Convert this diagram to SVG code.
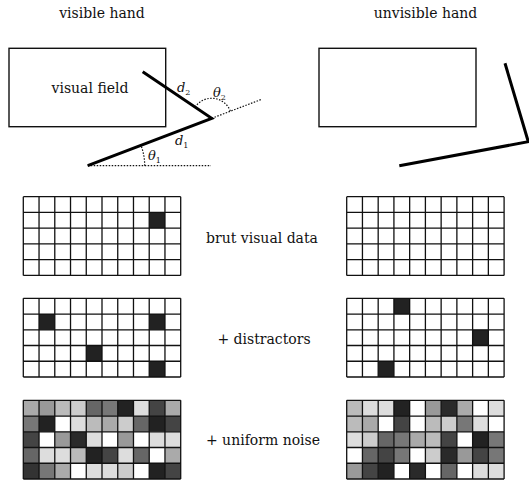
<svg xmlns="http://www.w3.org/2000/svg" xmlns:xlink="http://www.w3.org/1999/xlink" width="529" height="483" viewBox="0 0 529 483">
<style>
text{font-family:'DejaVu Serif','Liberation Serif',serif;fill:#111;}
.t{font-size:14px;}
.m{font-size:13px;font-style:italic;}
.s{font-size:8px;font-style:normal;}
.box{fill:none;stroke:#111;stroke-width:1.4;}
.arm{fill:none;stroke:#000;stroke-width:3;stroke-linejoin:miter;}
.dot{fill:none;stroke:#111;stroke-width:1.2;stroke-dasharray:1.5 1.5;}
.gl{fill:none;stroke:#111;stroke-width:1.3;}
.k{fill:#222;}
</style>
<defs>
<path id="grid" class="gl" d="M0,0H157.4M0,15.74H157.4M0,31.48H157.4M0,47.22H157.4M0,62.96H157.4M0,78.7H157.4M0,0V78.7M15.74,0V78.7M31.48,0V78.7M47.22,0V78.7M62.96,0V78.7M78.7,0V78.7M94.44,0V78.7M110.18,0V78.7M125.92,0V78.7M141.66,0V78.7M157.4,0V78.7"/>
</defs>
<rect width="529" height="483" fill="#fff"/>

<g id="title-left"><text class="t" x="102" y="18" text-anchor="middle">visible hand</text></g>
<g id="title-right"><text class="t" x="425.5" y="18" text-anchor="middle">unvisible hand</text></g>

<g id="visual-field-left">
<rect class="box" x="9" y="48.3" width="156.7" height="78.4"/>
<text class="t" x="90" y="93" text-anchor="middle">visual field</text>
</g>
<g id="visual-field-right">
<rect class="box" x="319" y="48.3" width="157" height="78.4"/>
</g>

<g id="arm-left">
<path class="dot" d="M87.7,165.7H211"/>
<path class="dot" d="M211.7,118.3L261.7,99.3"/>
<path class="dot" d="M144.7,165.7A57,57 0 0 0 141,145.4"/>
<path class="dot" d="M195.1,107.1A20,20 0 0 1 230.4,111.2"/>
<path class="arm" d="M142.7,71.7L211.7,118.3L87.7,165.7"/>
<text class="m" x="177" y="92">d<tspan class="s" dy="3">2</tspan></text>
<text class="m" x="213" y="97">θ<tspan class="s" dy="3">2</tspan></text>
<text class="m" x="175" y="145">d<tspan class="s" dy="3">1</tspan></text>
<text class="m" x="148" y="160">θ<tspan class="s" dy="3">1</tspan></text>
</g>
<g id="arm-right">
<path class="arm" d="M505,63.3L528.3,141.7L399.3,165.7"/>
</g>

<g id="labels">
<text class="t" x="262" y="243" text-anchor="middle">brut visual data</text>
<text class="t" x="264" y="344" text-anchor="middle">+ distractors</text>
<text class="t" x="263" y="445" text-anchor="middle">+ uniform noise</text>
</g>

<g id="grid-brut-left" transform="translate(23.3,196.7)">
<rect class="k" x="125.92" y="15.74" width="15.74" height="15.74"/>
<use xlink:href="#grid"/>
</g>
<g id="grid-brut-right" transform="translate(346.7,196.7)">
<use xlink:href="#grid"/>
</g>

<g id="grid-distractors-left" transform="translate(23.3,298.3)">
<rect class="k" x="15.74" y="15.74" width="15.74" height="15.74"/>
<rect class="k" x="125.92" y="15.74" width="15.74" height="15.74"/>
<rect class="k" x="62.96" y="47.22" width="15.74" height="15.74"/>
<rect class="k" x="125.92" y="62.96" width="15.74" height="15.74"/>
<use xlink:href="#grid"/>
</g>
<g id="grid-distractors-right" transform="translate(346.7,298.3)">
<rect class="k" x="47.22" y="0" width="15.74" height="15.74"/>
<rect class="k" x="125.92" y="31.48" width="15.74" height="15.74"/>
<rect class="k" x="31.48" y="62.96" width="15.74" height="15.74"/>
<use xlink:href="#grid"/>
</g>

<g id="grid-noise-left" transform="translate(23.3,400.3)">
<rect x="0" y="0" width="15.74" height="15.74" fill="#aaa"/>
<rect x="15.74" y="0" width="15.74" height="15.74" fill="#999"/>
<rect x="31.48" y="0" width="15.74" height="15.74" fill="#bbb"/>
<rect x="47.22" y="0" width="15.74" height="15.74" fill="#ccc"/>
<rect x="62.96" y="0" width="15.74" height="15.74" fill="#666"/>
<rect x="78.7" y="0" width="15.74" height="15.74" fill="#777"/>
<rect x="94.44" y="0" width="15.74" height="15.74" fill="#222"/>
<rect x="110.18" y="0" width="15.74" height="15.74" fill="#ddd"/>
<rect x="125.92" y="0" width="15.74" height="15.74" fill="#444"/>
<rect x="141.66" y="0" width="15.74" height="15.74" fill="#aaa"/>

<rect x="0" y="15.74" width="15.74" height="15.74" fill="#777"/>
<rect x="15.74" y="15.74" width="15.74" height="15.74" fill="#222"/>
<rect x="47.22" y="15.74" width="15.74" height="15.74" fill="#ddd"/>
<rect x="62.96" y="15.74" width="15.74" height="15.74" fill="#bbb"/>
<rect x="78.7" y="15.74" width="15.74" height="15.74" fill="#aaa"/>
<rect x="94.44" y="15.74" width="15.74" height="15.74" fill="#ccc"/>
<rect x="110.18" y="15.74" width="15.74" height="15.74" fill="#666"/>
<rect x="125.92" y="15.74" width="15.74" height="15.74" fill="#222"/>
<rect x="141.66" y="15.74" width="15.74" height="15.74" fill="#444"/>

<rect x="0" y="31.48" width="15.74" height="15.74" fill="#444"/>
<rect x="31.48" y="31.48" width="15.74" height="15.74" fill="#999"/>
<rect x="47.22" y="31.48" width="15.74" height="15.74" fill="#2a2a2a"/>
<rect x="62.96" y="31.48" width="15.74" height="15.74" fill="#ddd"/>
<rect x="94.44" y="31.48" width="15.74" height="15.74" fill="#999"/>
<rect x="125.92" y="31.48" width="15.74" height="15.74" fill="#ddd"/>
<rect x="141.66" y="31.48" width="15.74" height="15.74" fill="#ddd"/>

<rect x="0" y="47.22" width="15.74" height="15.74" fill="#666"/>
<rect x="15.74" y="47.22" width="15.74" height="15.74" fill="#ddd"/>
<rect x="31.48" y="47.22" width="15.74" height="15.74" fill="#ddd"/>
<rect x="47.22" y="47.22" width="15.74" height="15.74" fill="#bbb"/>
<rect x="62.96" y="47.22" width="15.74" height="15.74" fill="#222"/>
<rect x="78.7" y="47.22" width="15.74" height="15.74" fill="#444"/>
<rect x="94.44" y="47.22" width="15.74" height="15.74" fill="#ddd"/>
<rect x="110.18" y="47.22" width="15.74" height="15.74" fill="#666"/>
<rect x="141.66" y="47.22" width="15.74" height="15.74" fill="#aaa"/>

<rect x="0" y="62.96" width="15.74" height="15.74" fill="#333"/>
<rect x="15.74" y="62.96" width="15.74" height="15.74" fill="#777"/>
<rect x="31.48" y="62.96" width="15.74" height="15.74" fill="#aaa"/>
<rect x="62.96" y="62.96" width="15.74" height="15.74" fill="#ddd"/>
<rect x="78.7" y="62.96" width="15.74" height="15.74" fill="#ddd"/>
<rect x="94.44" y="62.96" width="15.74" height="15.74" fill="#ccc"/>
<rect x="125.92" y="62.96" width="15.74" height="15.74" fill="#222"/>
<rect x="141.66" y="62.96" width="15.74" height="15.74" fill="#444"/>
<use xlink:href="#grid"/>
</g>

<g id="grid-noise-right" transform="translate(346.7,400.3)">
<rect x="0" y="0" width="15.74" height="15.74" fill="#bbb"/>
<rect x="15.74" y="0" width="15.74" height="15.74" fill="#ddd"/>
<rect x="31.48" y="0" width="15.74" height="15.74" fill="#ddd"/>
<rect x="47.22" y="0" width="15.74" height="15.74" fill="#222"/>
<rect x="78.7" y="0" width="15.74" height="15.74" fill="#999"/>
<rect x="94.44" y="0" width="15.74" height="15.74" fill="#2a2a2a"/>
<rect x="110.18" y="0" width="15.74" height="15.74" fill="#aaa"/>
<rect x="141.66" y="0" width="15.74" height="15.74" fill="#ddd"/>

<rect x="0" y="15.74" width="15.74" height="15.74" fill="#bbb"/>
<rect x="15.74" y="15.74" width="15.74" height="15.74" fill="#aaa"/>
<rect x="47.22" y="15.74" width="15.74" height="15.74" fill="#444"/>
<rect x="78.7" y="15.74" width="15.74" height="15.74" fill="#bbb"/>
<rect x="94.44" y="15.74" width="15.74" height="15.74" fill="#ccc"/>
<rect x="110.18" y="15.74" width="15.74" height="15.74" fill="#777"/>
<rect x="125.92" y="15.74" width="15.74" height="15.74" fill="#ddd"/>

<rect x="0" y="31.48" width="15.74" height="15.74" fill="#ddd"/>
<rect x="15.74" y="31.48" width="15.74" height="15.74" fill="#ccc"/>
<rect x="31.48" y="31.48" width="15.74" height="15.74" fill="#666"/>
<rect x="47.22" y="31.48" width="15.74" height="15.74" fill="#777"/>
<rect x="62.96" y="31.48" width="15.74" height="15.74" fill="#aaa"/>
<rect x="78.7" y="31.48" width="15.74" height="15.74" fill="#bbb"/>
<rect x="94.44" y="31.48" width="15.74" height="15.74" fill="#444"/>
<rect x="125.92" y="31.48" width="15.74" height="15.74" fill="#222"/>
<rect x="141.66" y="31.48" width="15.74" height="15.74" fill="#777"/>

<rect x="15.74" y="47.22" width="15.74" height="15.74" fill="#666"/>
<rect x="31.48" y="47.22" width="15.74" height="15.74" fill="#444"/>
<rect x="47.22" y="47.22" width="15.74" height="15.74" fill="#777"/>
<rect x="78.7" y="47.22" width="15.74" height="15.74" fill="#ccc"/>
<rect x="94.44" y="47.22" width="15.74" height="15.74" fill="#2a2a2a"/>
<rect x="110.18" y="47.22" width="15.74" height="15.74" fill="#999"/>
<rect x="125.92" y="47.22" width="15.74" height="15.74" fill="#444"/>
<rect x="141.66" y="47.22" width="15.74" height="15.74" fill="#777"/>

<rect x="0" y="62.96" width="15.74" height="15.74" fill="#999"/>
<rect x="15.74" y="62.96" width="15.74" height="15.74" fill="#444"/>
<rect x="31.48" y="62.96" width="15.74" height="15.74" fill="#222"/>
<rect x="62.96" y="62.96" width="15.74" height="15.74" fill="#2a2a2a"/>
<rect x="94.44" y="62.96" width="15.74" height="15.74" fill="#666"/>
<rect x="125.92" y="62.96" width="15.74" height="15.74" fill="#ddd"/>
<rect x="141.66" y="62.96" width="15.74" height="15.74" fill="#ddd"/>
<use xlink:href="#grid"/>
</g>
</svg>
